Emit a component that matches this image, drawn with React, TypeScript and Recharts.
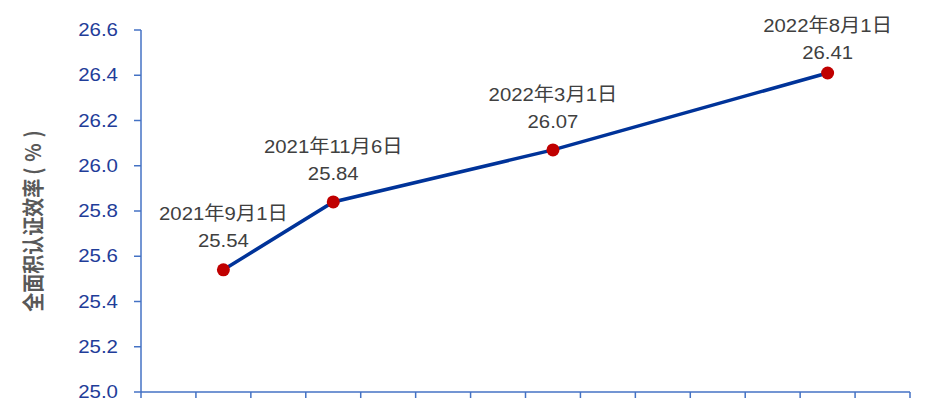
import { LabelList, Line, LineChart, XAxis, YAxis } from 'recharts';

// one category per month on the axis (Excel-style date axis, base unit = month)
const months = [
  '2021-08', '2021-09', '2021-10', '2021-11', '2021-12', '2022-01', '2022-02',
  '2022-03', '2022-04', '2022-05', '2022-06', '2022-07', '2022-08', '2022-09',
];
const pointMonths = ['2021-09', '2021-11', '2022-03', '2022-08'];
const pointLabels = ['2021年9月1日', '2021年11月6日', '2022年3月1日', '2022年8月1日'];
const rates = [25.54, 25.84, 26.07, 26.41];
const yTicks = [25.0, 25.2, 25.4, 25.6, 25.8, 26.0, 26.2, 26.4, 26.6];

// points sit in the middle of their month band, ticks on the band edges
const data = pointMonths.map((m, i) => ({
  pos: months.indexOf(m) + 0.5,
  rate: rates[i],
}));
const xTicks = months.map((_, i) => i).concat(months.length);

const FONT = 'Liberation Sans, Arial, "Noto Sans CJK SC", sans-serif';

function YTick(props: any) {
  const { x, y, payload } = props;
  return (
    <text
      transform={`translate(${x}, ${y}) scale(1.17, 1)`}
      textAnchor="end"
      dy="0.35em"
      fontFamily={FONT}
      fontSize={17.5}
      fill="#1F3D99"
    >
      {Number(payload.value).toFixed(1)}
    </text>
  );
}

function PointLabel(props: any) {
  const { x, y, index, value } = props;
  const top = Math.max(y - 56, 25);
  return (
    <g fontFamily={FONT} fontSize={19} fill="#404040" textAnchor="middle">
      <text transform={`translate(${x}, ${top}) scale(1.07, 1)`} dy="0.35em">
        {pointLabels[index]}
      </text>
      <text transform={`translate(${x}, ${top + 27}) scale(1.07, 1)`} dy="0.35em">
        {Number(value).toFixed(2)}
      </text>
    </g>
  );
}

function AxisTitle(props: any) {
  const { viewBox } = props;
  const cx = viewBox.x + 33;
  const cy = viewBox.y + viewBox.height / 2 + 7;
  return (
    <text
      transform={`translate(${cx}, ${cy}) scale(1.15, 1) rotate(-90)`}
      textAnchor="middle"
      dy="0.35em"
      fontFamily={'"Noto Sans CJK SC", sans-serif'}
      fontWeight="bold"
      fontSize={19}
      fill="#595959"
    >
      全面积认证效率
      <tspan dx={4} letterSpacing={6}>(%)</tspan>
    </text>
  );
}

export default function App() {
  return (
    <div style={{ width: 945, height: 411 }}>
      <style>{'body{margin:0}'}</style>
      <LineChart width={945} height={411} data={data} margin={{ top: 30, right: 35, left: 0, bottom: 0 }}>
        <XAxis
          type="number"
          dataKey="pos"
          domain={[0, months.length]}
          ticks={xTicks}
          tickFormatter={() => ''}
          height={19}
          tickSize={6}
          stroke="#4472C4"
          strokeWidth={1.5}
          allowDataOverflow
        />
        <YAxis
          type="number"
          domain={[25, 26.6]}
          ticks={yTicks}
          width={141}
          tickSize={7}
          tickMargin={16}
          stroke="#4472C4"
          strokeWidth={1.5}
          tick={YTick}
          label={{ content: AxisTitle }}
        />
        <Line
          type="linear"
          dataKey="rate"
          stroke="#003399"
          strokeWidth={3.5}
          dot={{ r: 6.5, fill: '#C00000', stroke: '#C00000', strokeWidth: 0 }}
          activeDot={false}
          isAnimationActive={false}
        >
          <LabelList dataKey="rate" content={PointLabel} />
        </Line>
      </LineChart>
    </div>
  );
}
